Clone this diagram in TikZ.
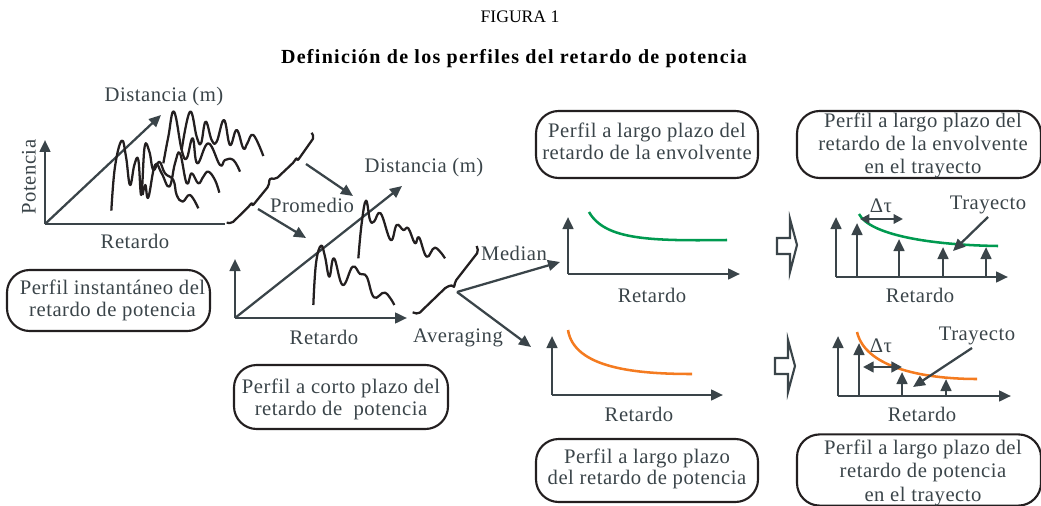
\documentclass[tikz,border=0pt]{standalone}
\usepackage{fontspec}
\setmainfont{Liberation Serif}
\newfontfamily\spc[LetterSpace=2.5]{Liberation Serif}
\newfontfamily\spb[LetterSpace=6.5]{Liberation Serif Bold}
\usetikzlibrary{arrows.meta}
\definecolor{ink}{HTML}{3A4449}
\definecolor{wig}{HTML}{231F20}
\definecolor{grn}{HTML}{009A50}
\definecolor{org}{HTML}{F47B20}
\tikzset{
 lbl/.style={font=\spc\fontsize{15.5}{18}\selectfont,text=ink,inner sep=0pt,align=center},
 ttl/.style={font=\fontsize{13.2}{15.5}\selectfont,text=black,inner sep=0pt},
 boxn/.style={draw=wig,line width=1.6pt,rounded corners=17pt,font=\spc\fontsize{15.5}{17}\selectfont,text=ink,align=center,inner sep=0pt},
 ax/.style={draw=ink,line width=1.9pt,-{Triangle[length=9pt,width=8pt]}},
 flow/.style={draw=ink,line width=1.7pt,-{Triangle[length=9pt,width=8pt]}},
 wiggle/.style={draw=wig,line width=1.7pt,line join=round},
 hollow/.style={draw=ink,line width=1.6pt,fill=white,line join=miter},
}
\begin{document}
\begin{tikzpicture}[x=0.75pt,y=-0.75pt]
\useasboundingbox (0,0) rectangle (1041,506);
\node[ttl] (t1) at (520,17) {FIGURA 1};
\node[ttl,font=\spb\fontsize{15}{17}\selectfont] (t2) at (514,59) {Definición de los perfiles del retardo de potencia};
% boxes
\node[boxn,minimum width=152.25pt,minimum height=45.75pt] (b1) at (108.5,300.5) {\hspace*{6pt}Perfil instantáneo del\\\hspace*{6pt}retardo de potencia};
\node[boxn,minimum width=160.5pt,minimum height=48pt] (b2) at (341,397) {\rule{0pt}{14.6pt}Perfil a corto plazo del\\retardo de\ \ potencia};
\node[boxn,minimum width=166.5pt,minimum height=50.25pt,font=\spc\fontsize{15.5}{16.5}\selectfont] (b3) at (647,144.5) {Perfil a largo plazo del\\retardo de la envolvente\rule[-5.6pt]{0pt}{0pt}};
\node[boxn,minimum width=183pt,minimum height=50.25pt,font=\spc\fontsize{15.5}{17}\selectfont] (b4) at (919,144.5) {\rule{0pt}{12.4pt}\hspace*{6pt}Perfil a largo plazo del\\\hspace*{6pt}retardo de la envolvente\\\hspace*{6pt}en el trayecto};
\node[boxn,minimum width=166.5pt,minimum height=47.25pt,font=\spc\fontsize{15.5}{16}\selectfont] (b5) at (647,470.5) {Perfil a largo plazo\\del retardo de potencia\rule[-6.1pt]{0pt}{0pt}};
\node[boxn,minimum width=183pt,minimum height=51pt,font=\spc\fontsize{15.5}{17.25}\selectfont] (b6) at (919,470) {\rule{0pt}{14.8pt}\hspace*{6pt}Perfil a largo plazo del\\\hspace*{6pt}retardo de potencia\\[0.75pt]\hspace*{6pt}en el trayecto};
% panel 1
\coordinate (o1) at (45,224); \coordinate (u1) at (45,140); \coordinate (r1) at (225,224); \coordinate (d1) at (161,115);
\draw[draw=ink,line width=1.9pt] (o1) -- (r1);
\draw[ax] (o1) -- (u1);
\draw[flow] (o1) -- (d1);
\node[lbl] (d1l) at (164,97) {Distancia (m)};
\node[lbl,rotate=90] (p1l) at (29,177) {Potencia};
\node[lbl] (r1l) at (135,241) {Retardo};
\begin{scope}[shift={(0,80)},x=0.25pt,y=-0.25pt]
\draw[wiggle] plot[smooth,tension=.7] coordinates {(334,392)(345,260)(365,182)(378,230)(390,315)(403,255)(415,240)(424,345)(434,200)(448,215)(460,270)(478,245)(495,280)(520,300)(530,345)(548,365)(570,345)(595,385)};
\draw[wiggle] plot[smooth,tension=.7] coordinates {(428,345)(436,315)(445,352)(465,255)(485,280)(508,320)(525,250)(540,220)(560,310)(575,280)(595,310)(610,290)(625,275)(645,300)(658,338)};
\draw[wiggle] plot[smooth,tension=.7] coordinates {(490,250)(505,170)(522,95)(545,210)(560,235)(578,175)(592,250)(625,190)(660,255)(675,240)(700,240)(720,275)};
\draw[wiggle] plot[smooth,tension=.7] coordinates {(545,210)(570,95)(590,170)(603,190)(617,125)(635,180)(650,185)(672,120)(690,195)(710,150)(730,205)(742,190)(760,165)(790,228)};
\draw[wiggle,rounded corners=1.5pt] (680,428) -- (695,430) -- (748,378) -- (756,367) -- (757,378) -- (806,318) -- (809,295) -- (828,297) -- (883,245) -- (890,232) -- (892,243) -- (942,172) -- (935,158);
\end{scope}
% flow arrows
\coordinate (a1s) at (306,164); \coordinate (a1e) at (353,196);
\coordinate (a2s) at (258,209); \coordinate (a2e) at (306,238);
\draw[flow] (a1s) -- (a1e);
\draw[flow] (a2s) -- (a2e);
\node[lbl] (prom) at (312,205) {Promedio};
% panel 2
\coordinate (o2) at (235,318); \coordinate (u2) at (235,259); \coordinate (r2) at (407,318); \coordinate (d2) at (402,186);
\draw[ax] (o2) -- (u2); \draw[ax] (o2) -- (r2); \draw[flow] (o2) -- (d2);
\node[lbl] (d2l) at (424,168) {Distancia (m)};
\node[lbl] (r2l) at (324,337) {Retardo};
\begin{scope}[shift={(220,150)},x=0.25pt,y=-0.25pt]
\draw[wiggle] plot[smooth,tension=.7] coordinates {(280,465)(288,340)(303,287)(315,320)(328,380)(342,325)(368,405)(398,350)(420,372)(440,380)(462,442)(495,428)(523,465)};
\draw[wiggle] plot[smooth,tension=.7] coordinates {(415,325)(425,220)(438,152)(450,210)(462,215)(482,190)(512,270)(530,225)(550,240)(565,235)(585,280)(597,262)(620,320)(645,293)(675,325)};
\draw[wiggle,rounded corners=1.5pt] (578,487) -- (595,492) -- (680,410) -- (700,405) -- (703,412) -- (705,395) -- (775,305) -- (770,288);
\end{scope}
\node[lbl] (med) at (514,253) {Median};
\node[lbl] (avg) at (458,338) {Averaging};
\coordinate (ap) at (457,292); \coordinate (me) at (560,262); \coordinate (ae) at (531,347);
\draw[flow] (ap) -- (me);
\draw[flow] (ap) -- (ae);
% panel 3
\coordinate (o3) at (568,274); \coordinate (u3) at (568,217); \coordinate (r3) at (740,274);
\draw[ax] (o3) -- (u3); \draw[ax] (o3) -- (r3);
\draw[draw=grn,line width=1.9pt] (589,212) .. controls (605,240) and (650,241) .. (727,240);
\node[lbl] (r3l) at (652,295) {Retardo};
% panel 4
\coordinate (o4) at (552,395); \coordinate (u4) at (552,336); \coordinate (r4) at (723,395);
\draw[ax] (o4) -- (u4); \draw[ax] (o4) -- (r4);
\draw[draw=org,line width=1.9pt] (568,330) .. controls (574,368) and (635,374) .. (692,374);
\node[lbl] (r4l) at (639,414) {Retardo};
% panel 5
\coordinate (o5) at (836,277); \coordinate (u5) at (836,217); \coordinate (r5) at (1008,277);
\draw[ax] (o5) -- (u5); \draw[ax] (o5) -- (r5);
\foreach \n/\x/\y in {a/857/223,b/899/239,c/943/247,d/986/247}{
 \coordinate (s5\n) at (\x,277); \coordinate (e5\n) at (\x,\y);
 \draw[ax] (s5\n) -- (e5\n);}
\draw[draw=grn,line width=1.9pt] (859,214) .. controls (870,235) and (930,245) .. (998,246);
\coordinate (dl5) at (860,219); \coordinate (dr5) at (903,219);
\draw[draw=ink,line width=1.5pt,{Triangle[length=7pt,width=7pt]}-{Triangle[length=7pt,width=7pt]}] (dl5) -- (dr5);
\node[lbl] (dt5) at (881,206) {Δτ};
\node[lbl] (tr5) at (988,205) {Trayecto};
\coordinate (ts5) at (988,217); \coordinate (te5) at (953,251);
\draw[flow] (ts5) -- (te5);
\node[lbl] (r5l) at (920,295) {Retardo};
% panel 6
\coordinate (o6) at (838,396); \coordinate (u6) at (838,336); \coordinate (r6) at (1011,396);
\draw[ax] (o6) -- (u6); \draw[ax] (o6) -- (r6);
\foreach \n/\x/\y in {a/859/343,b/902/372,c/946/379}{
 \coordinate (s6\n) at (\x,396); \coordinate (e6\n) at (\x,\y);
 \draw[ax] (s6\n) -- (e6\n);}
\draw[draw=org,line width=1.9pt] (857,332) .. controls (866,370) and (930,379) .. (977,379);
\coordinate (dl6) at (863,367); \coordinate (dr6) at (902,367);
\draw[draw=ink,line width=1.9pt,{Triangle[length=8pt,width=8pt]}-{Triangle[length=8pt,width=8pt]}] (dl6) -- (dr6);
\node[lbl] (dt6) at (881,346) {Δτ};
\node[lbl] (tr6) at (977,336) {Trayecto};
\coordinate (ts6) at (972,348); \coordinate (te6) at (913,387);
\draw[flow] (ts6) -- (te6);
\node[lbl] (r6l) at (922,414) {Retardo};
% hollow arrows
\draw[hollow] (777,238) -- (790,238) -- (790,219) -- (797,245) -- (790,272) -- (790,254) -- (777,254) -- cycle;
\draw[hollow] (775,358) -- (788,358) -- (788,340) -- (795,366) -- (788,392) -- (788,374) -- (775,374) -- cycle;
\end{tikzpicture}
\end{document}
